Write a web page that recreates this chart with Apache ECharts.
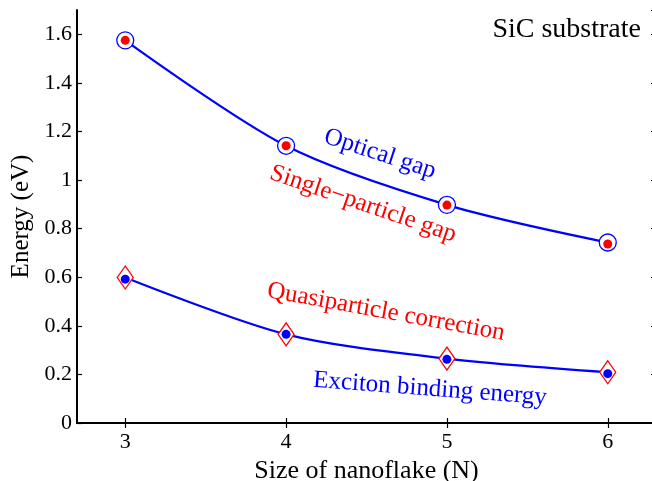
<!DOCTYPE html>
<html>
<head>
<meta charset="utf-8">
<script src="https://cdn.jsdelivr.net/npm/echarts@6/dist/echarts.min.js"></script>
<style>
html,body{margin:0;padding:0;background:#fff;}
#main{width:652px;height:481px;}
</style>
</head>
<body>
<div id="main"></div>
<script>
// nanoflake size N
var sizes = [3, 4, 5, 6];
// upper group (eV)
var opticalGap = [1.575, 1.141, 0.898, 0.743];
var singleParticleGap = [1.575, 1.141, 0.897, 0.737];
// lower group (eV)
var quasiCorrection = [0.599, 0.365, 0.265, 0.209];
var excitonBinding = [0.592, 0.365, 0.262, 0.203];
var xTicks = [3, 4, 5, 6];

function pairs(ys){
	var out = [];
	for (var i = 0; i < sizes.length; i++) out.push([sizes[i], ys[i]]);
	return out;
}

var serif = 'Liberation Serif, DejaVu Serif, serif';
var chart = echarts.init(document.getElementById('main'));

var axisX = {
	type: 'value', min: 2.7, max: 6.3,
	axisLine: {lineStyle: {color: '#000', width: 2}},
	axisTick: {inside: true, length: 5, customValues: xTicks, lineStyle: {color: '#000', width: 1.2}},
	axisLabel: {customValues: xTicks, color: '#000', fontFamily: serif, fontSize: 22, margin: 8},
	splitLine: {show: false}
};
var axisY = {
	type: 'value', min: 0, max: 1.7, interval: 0.2,
	axisLine: {show: true, lineStyle: {color: '#000', width: 2}},
	axisTick: {show: true, inside: true, length: 5, lineStyle: {color: '#000', width: 1.2}},
	axisLabel: {color: '#000', fontFamily: serif, fontSize: 22, margin: 5, showMaxLabel: false},
	splitLine: {show: false}
};

var option = {
	backgroundColor: '#fff',
	animation: false,
	grid: {left: 77, right: -4, top: 10, bottom: 58, containLabel: false, outerBoundsMode: 'none'},
	xAxis: [
		echarts.util.merge({
			position: 'bottom',
			name: 'Size of nanoflake (N)', nameLocation: 'middle', nameGap: 27,
			nameTextStyle: {color: '#000', fontFamily: serif, fontSize: 26}
		}, axisX, true),
		echarts.util.merge({position: 'top', axisLabel: {show: false}}, axisX, false)
	],
	yAxis: [
		echarts.util.merge({
			position: 'left',
			name: 'Energy (eV)', nameLocation: 'middle', nameGap: 40,
			nameTextStyle: {color: '#000', fontFamily: serif, fontSize: 25}
		}, axisY, true),
		echarts.util.merge({position: 'right', axisLabel: {show: false}}, axisY, false)
	],
	series: [
		{
			name: 'Optical gap fit', type: 'line', smooth: 0.3, showSymbol: false,
			data: pairs(opticalGap), lineStyle: {color: '#0000ff', width: 2.2}, z: 2
		},
		{
			name: 'Exciton fit', type: 'line', smooth: 0.3, showSymbol: false,
			data: pairs(quasiCorrection), lineStyle: {color: '#0000ff', width: 2.2}, z: 2
		},
		{
			name: 'Optical gap', type: 'scatter', symbol: 'circle', symbolSize: 17,
			data: pairs(opticalGap),
			itemStyle: {color: '#fff', borderColor: '#0000ff', borderWidth: 1.3, opacity: 1}, z: 3
		},
		{
			name: 'Single-particle gap', type: 'scatter', symbol: 'circle', symbolSize: 9,
			data: pairs(singleParticleGap),
			itemStyle: {color: '#ff0000', opacity: 1}, z: 4
		},
		{
			name: 'Quasiparticle correction', type: 'scatter', symbol: 'diamond', symbolSize: [16, 23],
			data: pairs(quasiCorrection),
			itemStyle: {color: '#fff', borderColor: '#ff0000', borderWidth: 1.3, opacity: 1}, z: 3
		},
		{
			name: 'Exciton binding energy', type: 'scatter', symbol: 'circle', symbolSize: 9,
			data: pairs(excitonBinding),
			itemStyle: {color: '#0000ff', opacity: 1}, z: 4
		}
	],
	graphic: [
		{type: 'text', right: 11, top: 16, style: {text: 'SiC substrate', fill: '#000', font: '28px ' + serif}},
		{type: 'text', x: 380, y: 154, rotation: -0.315,
			style: {text: 'Optical gap', fill: '#0000ff', font: '25px ' + serif, align: 'center', verticalAlign: 'middle'}},
		{type: 'text', x: 363, y: 204, rotation: -0.33,
			style: {text: 'Single\u2212particle gap', fill: '#ff0000', font: '25px ' + serif, align: 'center', verticalAlign: 'middle'}},
		{type: 'text', x: 386, y: 312, rotation: -0.18,
			style: {text: 'Quasiparticle correction', fill: '#ff0000', font: '25px ' + serif, align: 'center', verticalAlign: 'middle'}},
		{type: 'text', x: 430, y: 389, rotation: -0.075,
			style: {text: 'Exciton binding energy', fill: '#0000ff', font: '25px ' + serif, align: 'center', verticalAlign: 'middle'}}
	]
};
chart.setOption(option);
</script>
</body>
</html>
